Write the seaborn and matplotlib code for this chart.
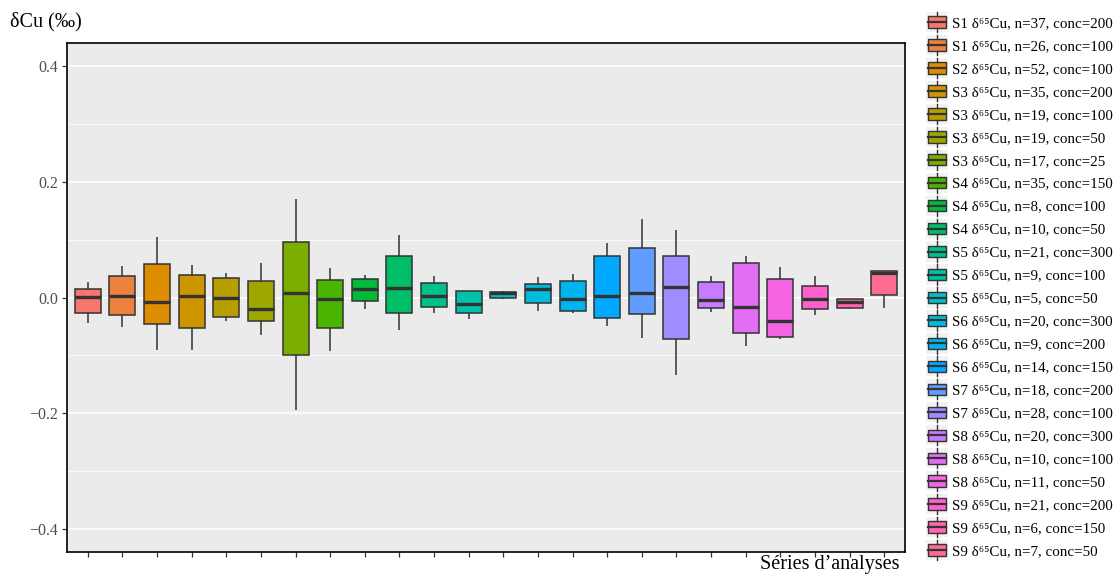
import numpy as np
import pandas as pd
import matplotlib
matplotlib.use("Agg")
import matplotlib.pyplot as plt
from matplotlib.patches import Patch, Rectangle
from matplotlib.lines import Line2D
from matplotlib.legend_handler import HandlerBase
import seaborn as sns

# ---------------- data ----------------
sample = ["S1", "S1", "S2", "S3", "S3", "S3", "S3", "S4", "S4", "S4", "S5", "S5",
          "S5", "S6", "S6", "S6", "S7", "S7", "S8", "S8", "S8", "S9", "S9", "S9"]
n_obs = [37, 26, 52, 35, 19, 19, 17, 35, 8, 10, 21, 9,
         5, 20, 9, 14, 18, 28, 20, 10, 11, 21, 6, 7]
conc = [200, 100, 100, 200, 100, 50, 25, 150, 100, 50, 300, 100,
        50, 300, 200, 150, 200, 100, 300, 100, 50, 200, 150, 50]

whisk_low = [-0.044, -0.051, -0.090, -0.091, -0.041, -0.064, -0.194, -0.092, -0.020, -0.056, -0.026, -0.037,
             -0.002, -0.023, -0.027, -0.049, -0.070, -0.134, -0.025, -0.083, -0.072, -0.030, -0.020, -0.018]
q1 = [-0.026, -0.031, -0.045, -0.052, -0.034, -0.041, -0.099, -0.053, -0.006, -0.026, -0.016, -0.027,
      -0.001, -0.010, -0.023, -0.035, -0.029, -0.071, -0.019, -0.061, -0.069, -0.020, -0.018, 0.004]
median = [0.001, 0.002, -0.008, 0.003, -0.001, -0.020, 0.007, -0.003, 0.014, 0.016, 0.003, -0.011,
          0.007, 0.015, -0.002, 0.003, 0.007, 0.019, -0.004, -0.016, -0.041, -0.003, -0.008, 0.043]
q3 = [0.014, 0.037, 0.058, 0.039, 0.034, 0.028, 0.096, 0.030, 0.032, 0.071, 0.025, 0.012,
      0.010, 0.023, 0.028, 0.072, 0.085, 0.072, 0.027, 0.060, 0.032, 0.020, -0.003, 0.046]
whisk_high = [0.027, 0.055, 0.104, 0.056, 0.043, 0.060, 0.171, 0.051, 0.039, 0.108, 0.037, 0.012,
              0.011, 0.035, 0.041, 0.095, 0.135, 0.117, 0.038, 0.072, 0.053, 0.037, -0.002, 0.046]

labels = [f"{s} \u03b4\u2076\u2075Cu, n={n}, conc={c}" for s, n, c in zip(sample, n_obs, conc)]

rows = []
for lab, a, b, m, d, e in zip(labels, whisk_low, q1, median, q3, whisk_high):
    for v in (a, b, m, d, e):
        rows.append({"serie": lab, "d65": v})
df = pd.DataFrame(rows)


# ggplot2 default hue palette (HCL, l=65, c=100)
def hcl_hex(h, c=100.0, l=65.0):
    hr = np.deg2rad(h)
    u, v = c * np.cos(hr), c * np.sin(hr)
    Xn, Yn, Zn = 95.047, 100.0, 108.883
    Y = Yn * ((l + 16) / 116) ** 3
    t = Xn + 15 * Yn + 3 * Zn
    un, vn = 4 * Xn / t, 9 * Yn / t
    up, vp = u / (13 * l) + un, v / (13 * l) + vn
    X = Y * 9 * up / (4 * vp)
    Z = Y * (12 - 3 * up - 20 * vp) / (4 * vp)
    X, Y, Z = X / 100, Y / 100, Z / 100
    r = 3.240479 * X - 1.537150 * Y - 0.498535 * Z
    g = -0.969256 * X + 1.875992 * Y + 0.041556 * Z
    b = 0.055648 * X - 0.204043 * Y + 1.057311 * Z
    out = []
    for ch in (r, g, b):
        ch = 1.055 * ch ** (1 / 2.4) - 0.055 if ch > 0.0031308 else 12.92 * ch
        out.append(min(max(ch, 0), 1))
    return matplotlib.colors.to_hex(out)


nlev = len(labels)
hues = np.linspace(15, 360, nlev)
colors = [hcl_hex(h) for h in hues]

# ---------------- style ----------------
plt.rcParams["font.family"] = ["Liberation Serif", "DejaVu Serif"]
plt.rcParams["axes.unicode_minus"] = True

fig = plt.figure(figsize=(11.17, 5.74), dpi=100)
ax = fig.add_axes([67 / 1117, 1 - 552 / 574, (905 - 67) / 1117, (552 - 43) / 574])
ax.set_facecolor("#EBEBEB")

sns.boxplot(data=df, x="serie", y="d65", hue="serie", order=labels, hue_order=labels,
            palette=colors, saturation=1, width=0.75, linewidth=1.1, linecolor="#333333",
            showcaps=False, whis=1.5, legend=False, ax=ax,
            medianprops={"linewidth": 2.4, "color": "#333333"},
            whiskerprops={"linewidth": 1.1, "color": "#333333"})

ax.set_xlim(-0.6, nlev - 0.4)
ax.set_ylim(-0.44, 0.44)
ax.set_yticks([-0.4, -0.2, 0.0, 0.2, 0.4])
ax.set_yticklabels(["\u22120.4", "\u22120.2", "0.0", "0.2", "0.4"])
ax.set_yticks([-0.3, -0.1, 0.1, 0.3], minor=True)
ax.set_xticks(range(nlev))
ax.set_xticklabels([])
ax.grid(False)
ax.yaxis.grid(True, which="major", color="white", linewidth=1.1)
ax.yaxis.grid(True, which="minor", color="white", linewidth=0.55)
ax.set_axisbelow(True)
ax.tick_params(axis="both", which="major", length=3.5, width=0.9, color="#333333",
               labelsize=11.5, labelcolor="#4D4D4D", pad=3)
ax.tick_params(axis="y", which="minor", length=0)
ax.set_xlabel("")
ax.set_ylabel("")
for sp in ax.spines.values():
    sp.set_visible(True)
    sp.set_color("black")
    sp.set_linewidth(1.2)

fig.text(10 / 1117, 1 - 22 / 574, "\u03b4Cu (\u2030)", ha="left", va="center", fontsize=14.5, color="black")
fig.text(900 / 1117, 1 - 565 / 574, "S\u00e9ries d\u2019analyses", ha="right", va="center",
         fontsize=14.5, color="black")


# ---------------- legend ----------------
class BoxHandler(HandlerBase):
    def create_artists(self, legend, orig_handle, xdescent, ydescent, width, height, fontsize, trans):
        x0, y0 = -xdescent, -ydescent
        bg = Rectangle((x0, y0), width, height, facecolor="#F2F2F2", edgecolor="none", transform=trans)
        bx = Rectangle((x0 + 0.09 * width, y0 + 0.22 * height), 0.82 * width, 0.56 * height,
                       facecolor=orig_handle.get_facecolor(), edgecolor="#333333", linewidth=1.0,
                       transform=trans)
        med = Line2D([x0 + 0.09 * width, x0 + 0.91 * width], [y0 + 0.5 * height] * 2,
                     color="#333333", linewidth=1.6, transform=trans)
        w1 = Line2D([x0 + 0.5 * width] * 2, [y0, y0 + 0.22 * height], color="#333333",
                    linewidth=1.0, transform=trans)
        w2 = Line2D([x0 + 0.5 * width] * 2, [y0 + 0.78 * height, y0 + height], color="#333333",
                    linewidth=1.0, transform=trans)
        return [bg, bx, med, w1, w2]


handles = [Patch(facecolor=c) for c in colors]
fig.legend(handles, labels, handler_map={Patch: BoxHandler()}, loc="upper left",
           bbox_to_anchor=(926 / 1117, 1 - 12 / 574), bbox_transform=fig.transFigure,
           frameon=False, fontsize=10.8, borderpad=0, borderaxespad=0,
           handlelength=1.48, handleheight=1.7, labelspacing=0.18, handletextpad=0.25)

fig.savefig("out.png", dpi=100)
